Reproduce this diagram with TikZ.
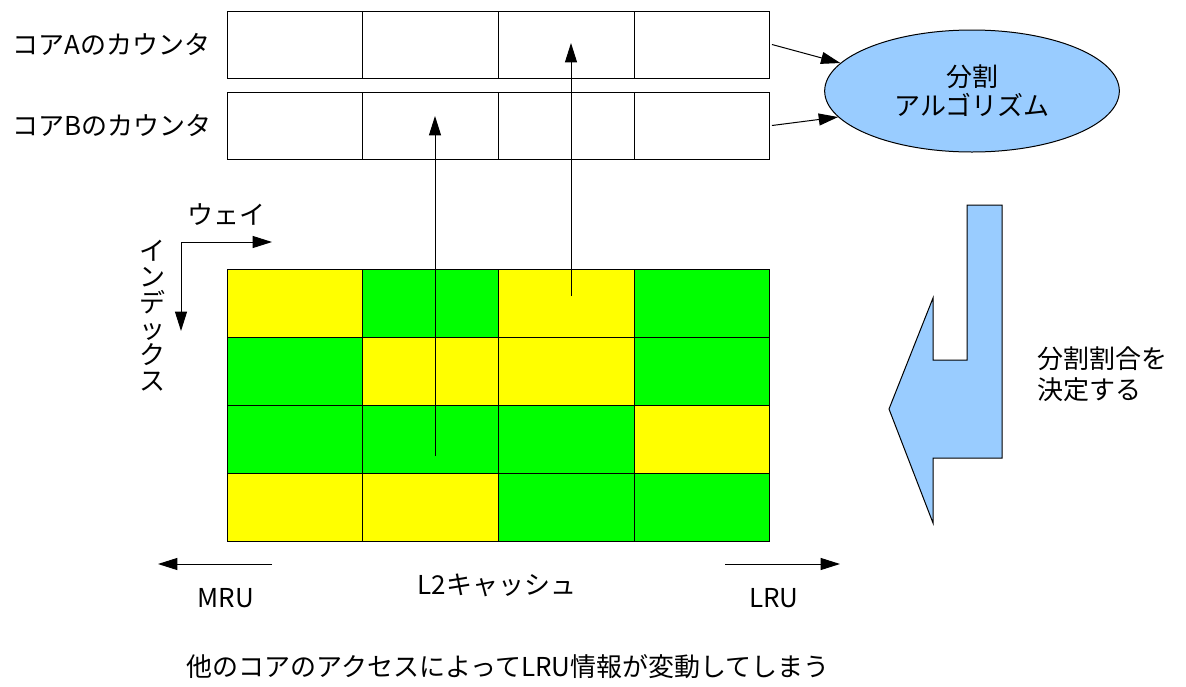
\documentclass[tikz,border=0pt]{standalone}
\usepackage{fontspec}
\setmainfont{Noto Sans CJK JP}
\usetikzlibrary{arrows.meta,shapes.geometric}
\definecolor{yel}{RGB}{255,255,0}
\definecolor{grn}{RGB}{0,255,0}
\definecolor{blu}{RGB}{153,204,255}
\begin{document}
\begin{tikzpicture}[x=0.75pt,y=-0.75pt,
  cell/.style={draw=black, line width=0.75pt, minimum width=101.8pt, minimum height=51pt, inner sep=0pt, outer sep=0pt, anchor=north west},
  cnt/.style={cell, minimum height=50.25pt, fill=white},
  lbl/.style={font=\fontsize{19.5}{23}\selectfont, inner sep=0pt},
  arr/.style={-{Triangle[length=14.5pt,width=9pt]}, line width=0.75pt}]
\useasboundingbox (0,0) rectangle (1186,686);
\fill[white] (0,0) rectangle (1186,686);
% counters
\node[cnt] (ca1) at (227,11) {};
\node[cnt] (ca2) at (362.75,11) {};
\node[cnt] (ca3) at (498.5,11) {};
\node[cnt] (ca4) at (634.25,11) {};
\node[cnt] (cb1) at (227,92) {};
\node[cnt] (cb2) at (362.75,92) {};
\node[cnt] (cb3) at (498.5,92) {};
\node[cnt] (cb4) at (634.25,92) {};
\node[lbl, anchor=west] (la) at (12,44) {コアAのカウンタ};
\node[lbl, anchor=west] (lb) at (12,125) {コアBのカウンタ};
% algorithm
\node[ellipse, draw=black, line width=0.75pt, fill=blu, minimum width=221pt, minimum height=91.5pt, inner sep=0pt, align=center, font=\fontsize{19.5}{22}\selectfont] (alg) at (972,91) {分割\\アルゴリズム};
\draw[arr] ([xshift=1.5pt]ca4.east) -- (alg.168);
\draw[arr] ([xshift=1.5pt]cb4.east) -- (alg.191);
% grid
\node[cell, fill=yel] (g11) at (227,269) {};
\node[cell, fill=grn] (g12) at (362.75,269) {};
\node[cell, fill=yel] (g13) at (498.5,269) {};
\node[cell, fill=grn] (g14) at (634.25,269) {};
\node[cell, fill=grn] (g21) at (227,337) {};
\node[cell, fill=yel] (g22) at (362.75,337) {};
\node[cell, fill=yel] (g23) at (498.5,337) {};
\node[cell, fill=grn] (g24) at (634.25,337) {};
\node[cell, fill=grn] (g31) at (227,405) {};
\node[cell, fill=grn] (g32) at (362.75,405) {};
\node[cell, fill=grn] (g33) at (498.5,405) {};
\node[cell, fill=yel] (g34) at (634.25,405) {};
\node[cell, fill=yel] (g41) at (227,473) {};
\node[cell, fill=yel] (g42) at (362.75,473) {};
\node[cell, fill=grn] (g43) at (498.5,473) {};
\node[cell, fill=grn] (g44) at (634.25,473) {};
% access arrows
\coordinate (s1) at (435,456);
\coordinate (t1) at (435,116);
\coordinate (s2) at (571,296);
\coordinate (t2) at (571,43);
\draw[arr] (s1) -- (t1);
\draw[arr] (s2) -- (t2);
% way / index
\coordinate (wc) at (181,242);
\coordinate (wh) at (272,242);
\coordinate (wv) at (181,331);
\draw[arr] (wc) -- (wh);
\draw[arr] (wc) -- (wv);
\node[lbl] (way) at (226,215) {ウェイ};
\node[lbl, align=center, font=\fontsize{19.5}{19.5}\selectfont] (idx) at (152,316) {イ\\ン\\デ\\ッ\\ク\\ス};
% MRU / LRU
\coordinate (ms) at (272,564);
\coordinate (me) at (158,564);
\coordinate (ls) at (725,564);
\coordinate (le) at (840,564);
\draw[arr] (ms) -- (me);
\draw[arr] (ls) -- (le);
\node[lbl] (mru) at (226,598) {MRU};
\node[lbl] (l2) at (497,585) {L2キャッシュ};
\node[lbl] (lru) at (774,598) {LRU};
\node[lbl] (note) at (508,667) {他のコアのアクセスによってLRU情報が変動してしまう};
% big arrow
\draw[fill=blu, draw=black, line width=0.75pt, line join=miter] (967,205) -- (1002,205) -- (1002,458) -- (933,458) -- (933,523) -- (889,409) -- (933,298) -- (933,360) -- (967,360) -- cycle;
\node[lbl, anchor=west, align=left] (dec) at (1037,374) {分割割合を\\決定する};
\end{tikzpicture}
\end{document}
